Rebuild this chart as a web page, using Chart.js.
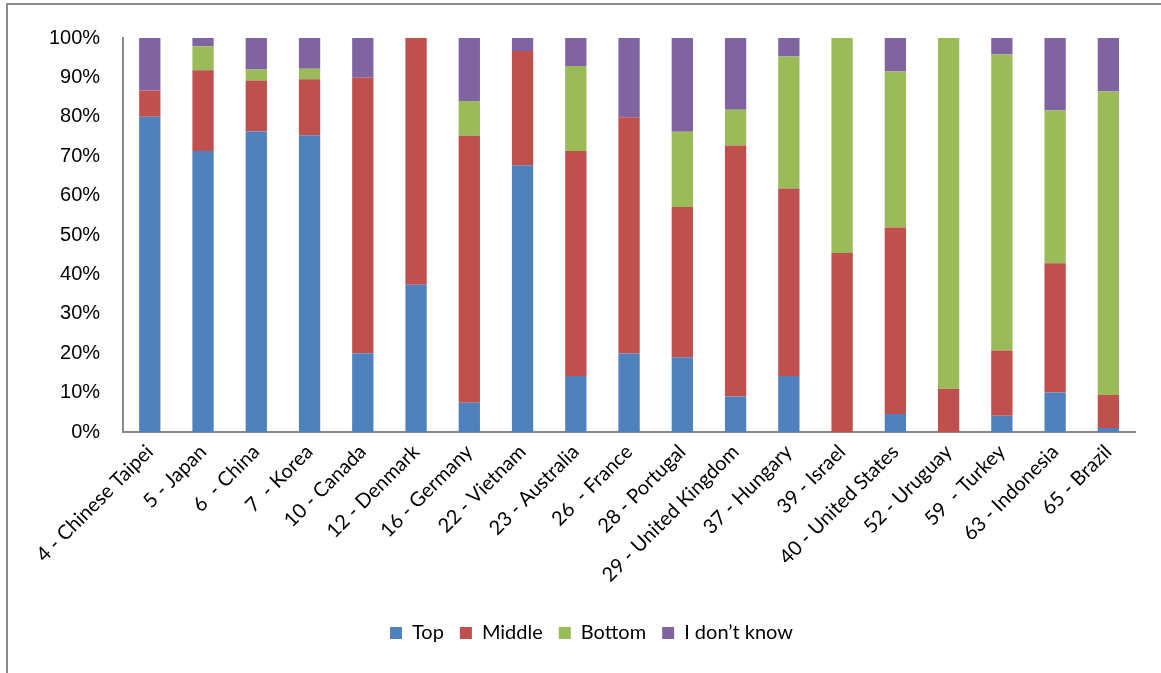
<!DOCTYPE html>
<html>
<head>
<meta charset="utf-8">
<title>Perceived position by country</title>
<script src="https://cdn.jsdelivr.net/npm/chart.js@4/dist/chart.umd.min.js"></script>
<style>
  html, body { margin: 0; padding: 0; background: #fff; }
  #wrap { position: relative; width: 1161px; height: 673px; }
</style>
</head>
<body>
<div id="wrap"><canvas id="chart"></canvas></div>
<script>
// Countries, prefixed by their rank
const countries = [
  '4 - Chinese Taipei', '5 - Japan', '6  - China', '7  - Korea', '10 - Canada',
  '12 - Denmark', '16 - Germany', '22 - Vietnam', '23 - Australia', '26  - France',
  '28 - Portugal', '29 - United Kingdom', '37 - Hungary', '39 - Israel',
  '40 - United States', '52 - Uruguay', '59  - Turkey', '63 - Indonesia', '65 - Brazil'
];

// Share of answers (%) per country
const topShare     = [80.0, 71.3, 76.3, 75.3, 20.0, 37.4,  7.4, 67.7, 14.2, 19.9, 19.0,  9.0, 14.2,  0.0,  4.6,  0.0,  4.1, 10.0,  1.0];
const middleShare  = [ 6.7, 20.5, 12.9, 14.2, 69.9, 62.6, 67.8, 29.0, 57.1, 60.0, 38.1, 63.7, 47.6, 45.4, 47.3, 11.0, 16.6, 32.8,  8.4];
const bottomShare  = [ 0.0,  6.1,  2.8,  2.7,  0.0,  0.0,  8.8,  0.0, 21.6,  0.0, 19.1,  9.1, 33.5, 54.6, 39.6, 89.0, 75.1, 38.8, 77.0];
const unknownShare = [13.3,  2.1,  8.0,  7.8, 10.1,  0.0, 16.0,  3.3,  7.1, 20.1, 23.8, 18.2,  4.7,  0.0,  8.5,  0.0,  4.2, 18.4, 13.6];

const seriesNames = ['Top', 'Middle', 'Bottom', 'I don\u2019t know'];
const yTicks = [0, 10, 20, 30, 40, 50, 60, 70, 80, 90, 100];

const colors = ['#4F81BD', '#C0504D', '#9BBB59', '#8064A2'];
const seriesData = [topShare, middleShare, bottomShare, unknownShare];

// Thin grey frame along the left and top edges of the figure
const framePlugin = {
  id: 'frame',
  beforeDraw(chart) {
    const ctx = chart.ctx;
    ctx.save();
    ctx.strokeStyle = '#8c8c8c';
    ctx.lineWidth = 2;
    ctx.beginPath();
    ctx.moveTo(7, chart.height);
    ctx.lineTo(7, 4);
    ctx.lineTo(chart.width, 4);
    ctx.stroke();
    ctx.restore();
  }
};

// Centre the legend under the whole figure rather than the padded box
const legendShift = {
  id: 'legendShift',
  afterLayout(chart) {
    const lg = chart.legend;
    if (lg) { lg.left += 11; lg.right += 11; }
  }
};

new Chart(document.getElementById('chart'), {
  type: 'bar',
  data: {
    labels: countries,
    datasets: seriesNames.map((name, i) => ({
      label: name,
      data: seriesData[i],
      backgroundColor: colors[i],
      borderWidth: 0,
      barPercentage: 0.4,
      categoryPercentage: 1.0
    }))
  },
  options: {
    responsive: true,
    maintainAspectRatio: false,
    animation: false,
    layout: { padding: { left: 26, right: 26, top: 38, bottom: 20 } },
    plugins: {
      tooltip: { enabled: false },
      legend: {
        position: 'bottom',
        labels: {
          boxWidth: 12,
          boxHeight: 12,
          padding: 16,
          color: '#000',
          font: { family: 'Lato', size: 20 }
        }
      }
    },
    scales: {
      x: {
        stacked: true,
        grid: { display: false, drawTicks: false },
        border: { display: true, color: '#888', width: 2 },
        ticks: {
          autoSkip: false,
          minRotation: 45,
          maxRotation: 45,
          padding: 8,
          color: '#000',
          font: { family: 'Lato', size: 20 }
        },
        afterFit(scale) {
          // rotated labels hang into the free margin, so no extra side padding
          scale.height = 175;
          scale.paddingLeft = 0;
          scale.paddingRight = 0;
        }
      },
      y: {
        stacked: true,
        min: 0,
        max: 100,
        grid: { display: false, drawTicks: false },
        border: { display: true, color: '#888', width: 2 },
        afterBuildTicks(scale) { scale.ticks = yTicks.map(v => ({ value: v })); },
        ticks: {
          padding: 23,
          color: '#000',
          font: { family: 'Liberation Sans', size: 20 },
          callback: v => v + '%'
        }
      }
    }
  },
  plugins: [framePlugin, legendShift]
});
</script>
</body>
</html>
